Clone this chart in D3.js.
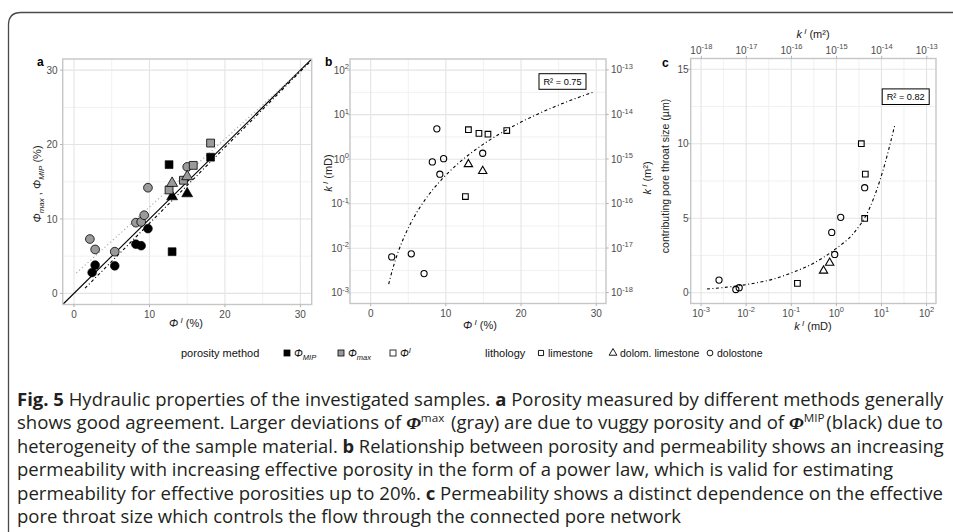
<!DOCTYPE html>
<html><head><meta charset="utf-8">
<script src="https://cdn.jsdelivr.net/npm/d3@7"></script>
<style>body{margin:0;background:#fff}</style>
</head><body><svg id="fig" width="953" height="532"></svg>
<script>
// ---- panel a: porosity by method vs effective porosity (%) ----
const mipPhiI = [2.4, 2.8, 5.4, 8.2, 8.9, 9.8, 12.6, 13.0, 18.1, 13.0, 15.0];
const mipPhi  = [2.8, 3.8, 3.7, 6.6, 6.4, 8.7, 17.3, 5.6, 18.3, 13.0, 13.4];
const mipLith = ["D","D","D","D","D","D","L","L","L","DL","DL"];

const maxPhiI = [2.1, 2.8, 5.4, 8.2, 8.9, 9.3, 9.8, 15.0, 18.1, 15.8, 14.5, 12.6, 13.0, 15.0];
const maxPhi  = [7.3, 5.9, 5.6, 9.5, 9.6, 10.5, 14.2, 17.0, 20.2, 17.2, 15.2, 13.9, 14.8, 15.7];
const maxLith = ["D","D","D","D","D","D","D","D","L","L","L","L","DL","DL"];

// linear fits (intercept, slope, x-range)
const fitMIP = {b0: -0.80, b1: 1.021, from: 1.46, to: 31.2};
const fitMax = {b0: 2.45, b1: 0.915, from: 0.3, to: 31.3};

// ---- panel b: permeability (mD) vs effective porosity (%) ----
const bPhi  = [8.8, 8.2, 9.7, 9.2, 14.9, 2.8, 5.4, 7.1, 13.0, 14.4, 15.6, 18.1, 12.6, 13.0, 14.9];
const bK    = [4.8, 0.87, 1.03, 0.46, 1.36, 0.0064, 0.0075, 0.0027, 4.6, 3.8, 3.65, 4.4, 0.145, 0.77, 0.54];
const bLith = ["D","D","D","D","D","D","D","D","L","L","L","L","L","DL","DL"];
// power law k = 10^logA * phi^expo
const powB = {logA: -4.306, expo: 3.95, from: 2.4, to: 29.6};
const r2B = "R² = 0.75";

// ---- panel c: contributing pore throat size (µm) vs permeability (mD) ----
const cK    = [0.0025, 0.0059, 0.0070, 0.79, 1.25, 0.92, 4.25, 3.58, 4.39, 4.25, 0.137, 0.52, 0.71];
const cD    = [0.85, 0.22, 0.34, 4.05, 5.06, 2.57, 7.05, 10.0, 7.96, 4.99, 0.63, 1.48, 2.01];
const cLith = ["D","D","D","D","D","D","D","L","L","L","L","DL","DL"];
const cFitK = [0.00135, 0.005, 0.014, 0.04, 0.11, 0.32, 1.0, 2.34, 5.5, 10.8, 19.6];
const cFitD = [0.25, 0.42, 0.62, 0.92, 1.38, 2.0, 2.98, 3.95, 5.7, 8.2, 11.2];
const r2C = "R² = 0.82";

// tick values
const linTicksA = [0, 10, 20, 30], linMinorA = [5, 15, 25];
const decExpB = [-3, -2, -1, 0, 1, 2];
const m2ExpB = [-18, -17, -16, -15, -14, -13];
const decExpC = [-3, -2, -1, 0, 1, 2];
const yTicksC = [0, 5, 10, 15], yMinorC = [2.5, 7.5, 12.5];
const MD_TO_M2 = 9.869233e-16;

const svg = d3.select("#fig");
const FONT = "'Liberation Sans', Arial, Helvetica, sans-serif";
svg.attr("font-family", FONT);
const TICK_FS = 10, SUP_FS = 7.5;

// figure frame (left + top, rounded corner)
svg.append("path").attr("d", "M8.5,532 V25 Q8.5,12.5 21,12.5 H953")
  .attr("fill", "none").attr("stroke", "#4a4a4a").attr("stroke-width", 1.3);

const shapeOf = {L: d3.symbolSquare, DL: d3.symbolTriangle, D: d3.symbolCircle};

function sup10(sel, e) {
  sel.append("tspan").text("10");
  sel.append("tspan").attr("dy", -4.5).attr("font-size", SUP_FS).text(e);
}

function panelFrame(g, x, y, xMaj, xMin, yMaj, yMin, id) {
  const [x0, x1] = x.range(), [y0, y1] = y.range();
  g.append("rect").attr("x", x0).attr("y", y1).attr("width", x1 - x0).attr("height", y0 - y1).attr("fill", "#fff");
  g.selectAll(".vmin").data(xMin).join("line")
    .attr("x1", d => x(d)).attr("x2", d => x(d)).attr("y1", y0).attr("y2", y1)
    .attr("stroke", "#efefef").attr("stroke-width", 0.9);
  g.selectAll(".hmin").data(yMin).join("line")
    .attr("y1", d => y(d)).attr("y2", d => y(d)).attr("x1", x0).attr("x2", x1)
    .attr("stroke", "#efefef").attr("stroke-width", 0.9);
  g.selectAll(".vmaj").data(xMaj).join("line")
    .attr("x1", d => x(d)).attr("x2", d => x(d)).attr("y1", y0).attr("y2", y1)
    .attr("stroke", "#e4e4e4").attr("stroke-width", 1.1);
  g.selectAll(".hmaj").data(yMaj).join("line")
    .attr("y1", d => y(d)).attr("y2", d => y(d)).attr("x1", x0).attr("x2", x1)
    .attr("stroke", "#e4e4e4").attr("stroke-width", 1.1);
  svg.append("clipPath").attr("id", id).append("rect")
    .attr("x", x0).attr("y", y1).attr("width", x1 - x0).attr("height", y0 - y1);
}
function panelBorder(g, x, y) {
  const [x0, x1] = x.range(), [y0, y1] = y.range();
  g.append("rect").attr("x", x0).attr("y", y1).attr("width", x1 - x0).attr("height", y0 - y1)
    .attr("fill", "none").attr("stroke", "#c6c6c6").attr("stroke-width", 1.4);
}
function ticksBottom(g, x, vals, yPos, fmt) {
  g.selectAll(null).data(vals).join("line")
    .attr("x1", d => x(d)).attr("x2", d => x(d)).attr("y1", yPos).attr("y2", yPos + 2.7)
    .attr("stroke", "#b3b3b3").attr("stroke-width", 1);
  const t = g.selectAll(null).data(vals).join("text")
    .attr("x", d => x(d)).attr("y", yPos + 13).attr("text-anchor", "middle")
    .attr("font-size", TICK_FS).attr("fill", "#4d4d4d");
  t.each(function(d) { fmt(d3.select(this), d); });
}
function ticksLeft(g, y, vals, xPos, fmt, labelX) {
  g.selectAll(null).data(vals).join("line")
    .attr("y1", d => y(d)).attr("y2", d => y(d)).attr("x1", xPos - 2.7).attr("x2", xPos)
    .attr("stroke", "#b3b3b3").attr("stroke-width", 1);
  const t = g.selectAll(null).data(vals).join("text")
    .attr("x", labelX).attr("y", d => y(d) + 3.6).attr("text-anchor", "end")
    .attr("font-size", TICK_FS).attr("fill", "#4d4d4d");
  t.each(function(d) { fmt(d3.select(this), d); });
}
const plainFmt = (s, d) => s.text(d);

// ================= panel a =================
const xA = d3.scaleLinear().domain([-1.5, 31.5]).range([62.7, 311.7]);
const yA = d3.scaleLinear().domain([-1.5, 31.5]).range([304.5, 59]);
const gA = svg.append("g");
panelFrame(gA, xA, yA, linTicksA, linMinorA, linTicksA, linMinorA, "clipA");
const lnA = gA.append("g").attr("clip-path", "url(#clipA)");
lnA.append("line").attr("x1", xA(-1.5)).attr("y1", yA(-1.5)).attr("x2", xA(31.5)).attr("y2", yA(31.5))
  .attr("stroke", "#000").attr("stroke-width", 1.1);
lnA.append("line").attr("x1", xA(fitMax.from)).attr("y1", yA(fitMax.b0 + fitMax.b1 * fitMax.from))
  .attr("x2", xA(fitMax.to)).attr("y2", yA(fitMax.b0 + fitMax.b1 * fitMax.to))
  .attr("stroke", "#a8a8a8").attr("stroke-width", 1.1).attr("stroke-dasharray", "1.2,2.6");
lnA.append("line").attr("x1", xA(fitMIP.from)).attr("y1", yA(fitMIP.b0 + fitMIP.b1 * fitMIP.from))
  .attr("x2", xA(fitMIP.to)).attr("y2", yA(fitMIP.b0 + fitMIP.b1 * fitMIP.to))
  .attr("stroke", "#000").attr("stroke-width", 1.1).attr("stroke-dasharray", "3,2.5,1,2.5");

const sizeA = {L: 62, DL: 52, D: 60};
const mipPts = mipPhiI.map((v, i) => ({x: v, y: mipPhi[i], s: mipLith[i]}));
const maxPts = maxPhiI.map((v, i) => ({x: v, y: maxPhi[i], s: maxLith[i]}));
gA.selectAll(".mip").data(mipPts).join("path")
  .attr("d", d => d3.symbol(shapeOf[d.s], sizeA[d.s])())
  .attr("transform", d => `translate(${xA(d.x)},${yA(d.y)})`)
  .attr("fill", "#000").attr("stroke", "#000").attr("stroke-width", 0.6);
gA.selectAll(".max").data(maxPts).join("path")
  .attr("d", d => d3.symbol(shapeOf[d.s], sizeA[d.s])())
  .attr("transform", d => `translate(${xA(d.x)},${yA(d.y)})`)
  .attr("fill", "#9a9a9a").attr("stroke", "#000").attr("stroke-width", 0.8);
panelBorder(gA, xA, yA);
ticksBottom(gA, xA, linTicksA, 304.5, plainFmt);
ticksLeft(gA, yA, linTicksA, 62.7, plainFmt, 57.5);

// ================= panel b =================
const xB = d3.scaleLinear().domain([-2.75, 31.3]).range([350, 606]);
const yB = d3.scaleLog().domain([Math.pow(10, -3.24), Math.pow(10, 2.25)]).range([303.5, 59]);
const gB = svg.append("g");
const bMaj = decExpB.map(e => Math.pow(10, e));
const bMin = decExpB.slice(0, -1).map(e => Math.pow(10, e + 0.5));
panelFrame(gB, xB, yB, linTicksA, linMinorA, bMaj, bMin, "clipB");
const powPts = d3.range(powB.from, powB.to + 0.01, 0.2).map(p => [p, Math.pow(10, powB.logA) * Math.pow(p, powB.expo)]);
gB.append("path").attr("clip-path", "url(#clipB)")
  .attr("d", d3.line().x(d => xB(d[0])).y(d => yB(d[1]))(powPts))
  .attr("fill", "none").attr("stroke", "#000").attr("stroke-width", 1.1).attr("stroke-dasharray", "3,2.5,1,2.5");
const sizeO = {L: 32, DL: 30, D: 30};
const bPts = bPhi.map((v, i) => ({x: v, y: bK[i], s: bLith[i]}));
gB.selectAll(".pt").data(bPts).join("path")
  .attr("d", d => d3.symbol(shapeOf[d.s], sizeO[d.s])())
  .attr("transform", d => `translate(${xB(d.x)},${yB(d.y)})`)
  .attr("fill", "none").attr("stroke", "#000").attr("stroke-width", 1.1);
panelBorder(gB, xB, yB);
ticksBottom(gB, xB, linTicksA, 303.5, plainFmt);
ticksLeft(gB, yB, bMaj, 350, (s, d) => sup10(s, Math.round(Math.log10(d))), 349);
// secondary axis in m²
const m2Vals = m2ExpB.map(e => Math.pow(10, e) / MD_TO_M2);
gB.selectAll(null).data(m2Vals).join("line")
  .attr("y1", d => yB(d)).attr("y2", d => yB(d)).attr("x1", 606).attr("x2", 608.7)
  .attr("stroke", "#b3b3b3");
gB.selectAll(null).data(m2ExpB).join("text")
  .attr("x", 611).attr("y", e => yB(Math.pow(10, e) / MD_TO_M2) + 3.6)
  .attr("font-size", TICK_FS).attr("fill", "#4d4d4d")
  .each(function(e) { sup10(d3.select(this), e); });
const r2b = gB.append("g").attr("transform", "translate(562.5,81.5)");
r2b.append("rect").attr("x", -23.5).attr("y", -7.8).attr("width", 47).attr("height", 15.6)
  .attr("fill", "#fff").attr("stroke", "#000").attr("stroke-width", 1);
r2b.append("text").attr("text-anchor", "middle").attr("y", 3.3).attr("font-size", 9.2).text(r2B);

// ================= panel c =================
const xC = d3.scaleLog().domain([Math.pow(10, -3.23), Math.pow(10, 2.21)]).range([690.7, 936]);
const yC = d3.scaleLinear().domain([-0.72, 15.72]).range([303.5, 58.5]);
const gC = svg.append("g");
const cMaj = decExpC.map(e => Math.pow(10, e));
const cMin = decExpC.slice(0, -1).map(e => Math.pow(10, e + 0.5));
panelFrame(gC, xC, yC, cMaj, cMin, yTicksC, yMinorC, "clipC");
const cFit = cFitK.map((k, i) => [k, cFitD[i]]);
gC.append("path").attr("clip-path", "url(#clipC)")
  .attr("d", d3.line().curve(d3.curveMonotoneX).x(d => xC(d[0])).y(d => yC(d[1]))(cFit))
  .attr("fill", "none").attr("stroke", "#000").attr("stroke-width", 1.1).attr("stroke-dasharray", "3,2.5,1,2.5");
const cPts = cK.map((v, i) => ({x: v, y: cD[i], s: cLith[i]}));
gC.selectAll(".pt").data(cPts).join("path")
  .attr("d", d => d3.symbol(shapeOf[d.s], sizeO[d.s])())
  .attr("transform", d => `translate(${xC(d.x)},${yC(d.y)})`)
  .attr("fill", "none").attr("stroke", "#000").attr("stroke-width", 1.1);
panelBorder(gC, xC, yC);
ticksBottom(gC, xC, cMaj, 303.5, (s, d) => sup10(s, Math.round(Math.log10(d))));
ticksLeft(gC, yC, yTicksC, 690.7, plainFmt, 688.5);
// secondary axis on top in m²
const m2ValsC = m2ExpB.map(e => Math.pow(10, e) / MD_TO_M2);
gC.selectAll(null).data(m2ValsC).join("line")
  .attr("x1", d => xC(d)).attr("x2", d => xC(d)).attr("y1", 58.5).attr("y2", 55.8)
  .attr("stroke", "#b3b3b3");
gC.selectAll(null).data(m2ExpB).join("text")
  .attr("x", e => xC(Math.pow(10, e) / MD_TO_M2)).attr("y", 53.5).attr("text-anchor", "middle")
  .attr("font-size", TICK_FS).attr("fill", "#4d4d4d")
  .each(function(e) { sup10(d3.select(this), e); });
const r2c = gC.append("g").attr("transform", "translate(905.7,96.7)");
r2c.append("rect").attr("x", -23.5).attr("y", -7.8).attr("width", 47).attr("height", 15.6)
  .attr("fill", "#fff").attr("stroke", "#000").attr("stroke-width", 1);
r2c.append("text").attr("text-anchor", "middle").attr("y", 3.3).attr("font-size", 9.2).text(r2C);

// ---- axis titles ----
function kTitle(sel, unit) {
  sel.append("tspan").attr("font-style", "italic").text("k");
  sel.append("tspan").attr("dy", -4).attr("font-size", 8).attr("font-style", "italic").text(" I");
  sel.append("tspan").attr("dy", 4).text(" (" + unit + ")");
}
function phiTitle(sel) {
  sel.append("tspan").attr("font-style", "italic").text("Φ");
  sel.append("tspan").attr("dy", -4).attr("font-size", 8).attr("font-style", "italic").text(" I");
  sel.append("tspan").attr("dy", 4).text(" (%)");
}
const titleCol = "#222";
phiTitle(svg.append("text").attr("x", 186).attr("y", 327).attr("text-anchor", "middle").attr("font-size", 11).attr("fill", titleCol));
phiTitle(svg.append("text").attr("x", 480).attr("y", 329).attr("text-anchor", "middle").attr("font-size", 11).attr("fill", titleCol));
kTitle(svg.append("text").attr("x", 813).attr("y", 330).attr("text-anchor", "middle").attr("font-size", 11).attr("fill", titleCol), "mD");
kTitle(svg.append("text").attr("x", 813).attr("y", 38).attr("text-anchor", "middle").attr("font-size", 11).attr("fill", titleCol), "m²");

const ya = svg.append("text").attr("transform", "translate(41,184) rotate(-90)").attr("text-anchor", "middle")
  .attr("font-size", 11).attr("fill", titleCol);
ya.append("tspan").attr("font-style", "italic").text("Φ");
ya.append("tspan").attr("dy", 3).attr("font-size", 8).attr("font-style", "italic").text("max");
ya.append("tspan").attr("dy", -3).text(" , ");
ya.append("tspan").attr("font-style", "italic").text("Φ");
ya.append("tspan").attr("dy", 3).attr("font-size", 8).attr("font-style", "italic").text("MIP");
ya.append("tspan").attr("dy", -3).text(" (%)");

kTitle(svg.append("text").attr("transform", "translate(332,173) rotate(-90)").attr("text-anchor", "middle")
  .attr("font-size", 11).attr("fill", titleCol), "mD");
kTitle(svg.append("text").attr("transform", "translate(651,178) rotate(-90)").attr("text-anchor", "middle")
  .attr("font-size", 11).attr("fill", titleCol), "m²");
svg.append("text").attr("transform", "translate(669,176) rotate(-90)").attr("text-anchor", "middle")
  .attr("font-size", 10.5).attr("fill", titleCol).text("contributing pore throat size  (µm)");

// panel tags
[["a", 37, 66], ["b", 325, 66], ["c", 662, 67]].forEach(([t, x, y]) =>
  svg.append("text").attr("x", x).attr("y", y).attr("font-size", 12).attr("font-weight", "bold").text(t));

// ---- legend ----
const lg = svg.append("g").attr("font-size", 10.5).attr("fill", "#111");
const legY = 353;
lg.append("text").attr("x", 181).attr("y", legY + 4).attr("font-size", 11).text("porosity method");
const methods = [
  {fill: "#000", x: 287, label: "MIP", kind: "sub"},
  {fill: "#9a9a9a", x: 341, label: "max", kind: "sub"},
  {fill: "#fff", x: 393, label: "I", kind: "sup"}
];
methods.forEach(m => {
  lg.append("rect").attr("x", m.x - 3).attr("y", legY - 3).attr("width", 6).attr("height", 6)
    .attr("fill", m.fill).attr("stroke", "#000").attr("stroke-width", 0.8);
  const t = lg.append("text").attr("x", m.x + 7).attr("y", legY + 4);
  t.append("tspan").attr("font-style", "italic").text("Φ");
  t.append("tspan").attr("dy", m.kind === "sub" ? 3 : -4).attr("font-size", 7.5).attr("font-style", "italic").text(m.label);
});
lg.append("text").attr("x", 485).attr("y", legY + 4).attr("font-size", 11).text("lithology");
const liths = [
  {s: "L", x: 541, label: "limestone"},
  {s: "DL", x: 613, label: "dolom. limestone"},
  {s: "D", x: 710, label: "dolostone"}
];
liths.forEach(l => {
  lg.append("path").attr("d", d3.symbol(shapeOf[l.s], 26)()).attr("transform", `translate(${l.x},${legY})`)
    .attr("fill", "none").attr("stroke", "#000").attr("stroke-width", 0.9);
  lg.append("text").attr("x", l.x + 7).attr("y", legY + 4).text(l.label);
});

// ---- caption ----
const capLines = [
  [["b", "Fig. 5"], ["n", "  Hydraulic properties of the investigated samples. "], ["b", "a"], ["n", " Porosity measured by different methods generally"]],
  [["n", "shows good agreement. Larger deviations of "], ["phi", "max"], ["n", " (gray) are due to vuggy porosity and of "], ["phi", "MIP"], ["n", "(black) due to"]],
  [["n", "heterogeneity of the sample material. "], ["b", "b"], ["n", " Relationship between porosity and permeability shows an increasing"]],
  [["n", "permeability with increasing effective porosity in the form of a power law, which is valid for estimating"]],
  [["n", "permeability for effective porosities up to 20%. "], ["b", "c"], ["n", " Permeability shows a distinct dependence on the effective"]],
  [["n", "pore throat size which controls the flow through the connected pore network"]]
];
const capBase = [405.5, 429, 452.6, 476.2, 499.8, 523.4];
const capFull = [true, true, true, false, true, false];   // lines set to the full block width
const capG = svg.append("g").attr("font-family", "'Open Sans', 'Noto Sans', sans-serif")
  .attr("font-size", 17.5).attr("fill", "#231f20");
const capTexts = capLines.map(segs => {
  const t = capG.append("text").attr("x", 0).attr("y", 0);
  segs.forEach(([k, s]) => {
    if (k === "b") t.append("tspan").attr("font-weight", "bold").text(s);
    else if (k === "n") t.append("tspan").text(s);
    else {
      t.append("tspan").attr("font-style", "italic").attr("font-weight", "bold").attr("font-family", "'Liberation Serif', serif").text("Φ");
      t.append("tspan").attr("dy", -7).attr("font-size", 11).text(s);
      t.append("tspan").attr("dy", 7).text("\u200A");
    }
  });
  return t;
});
const BLOCK_W = 927;
const fullScales = capTexts.filter((t, i) => capFull[i]).map(t => BLOCK_W / t.node().getComputedTextLength());
const meanScale = d3.mean(fullScales);
capTexts.forEach((t, i) => {
  const s = capFull[i] ? BLOCK_W / t.node().getComputedTextLength() : meanScale;
  t.attr("transform", `translate(17,${capBase[i]}) scale(${s},1)`);
});
</script></body></html>
